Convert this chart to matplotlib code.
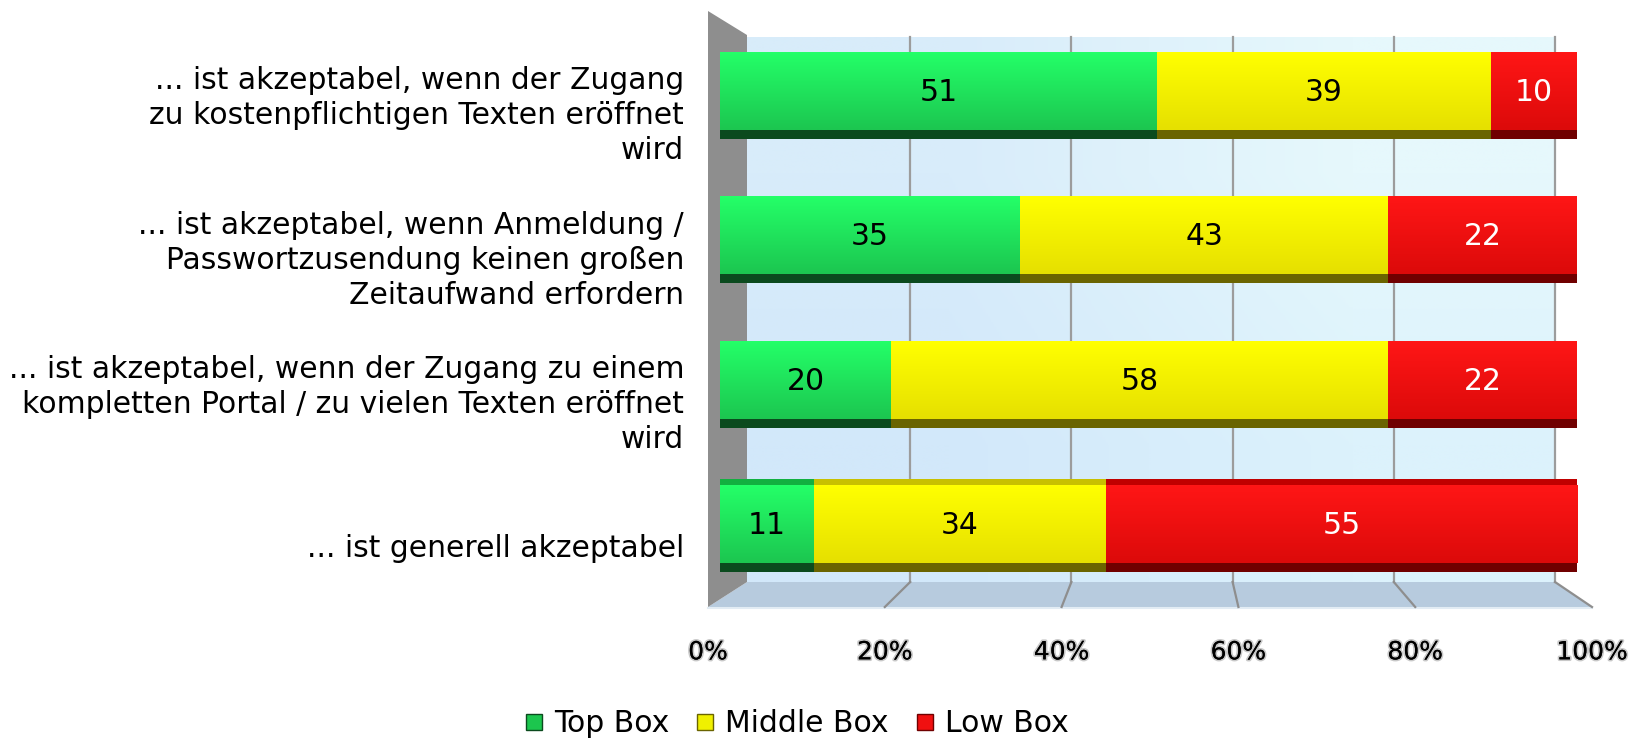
import matplotlib
matplotlib.use("Agg")
import matplotlib.pyplot as plt
import numpy as np
from matplotlib.patches import Polygon
from matplotlib.lines import Line2D
from matplotlib.colors import to_rgb
from matplotlib.transforms import blended_transform_factory
import matplotlib.patheffects as pe

# ---------------- data ----------------
categories = [
    "... ist akzeptabel, wenn der Zugang\nzu kostenpflichtigen Texten eröffnet\nwird",
    "... ist akzeptabel, wenn Anmeldung /\nPasswortzusendung keinen großen\nZeitaufwand erfordern",
    "... ist akzeptabel, wenn der Zugang zu einem\nkompletten Portal / zu vielen Texten eröffnet\nwird",
    "... ist generell akzeptabel",
]
top_box = [51, 35, 20, 11]
middle_box = [39, 43, 58, 34]
low_box = [10, 22, 22, 55]
series_names = ["Top Box", "Middle Box", "Low Box"]
tick_values = [0, 20, 40, 60, 80, 100]
tick_labels = ["0%", "20%", "40%", "60%", "80%", "100%"]

# ---------------- style ----------------
plt.rcParams['font.family'] = ['DejaVu Sans']
top_cols = ["#24FF68", "#FFFF00", "#FF1616"]
bot_cols = ["#1CC650", "#E6E000", "#DC0A0A"]
dark_cols = ["#0B4A1E", "#6A6400", "#700000"]
topface_cols = ["#12B040", "#C8C000", "#C00000"]
txt_cols = ["black", "black", "white"]
leg_cols = ["#1CC64E", "#F0F000", "#F01010"]

W, H = 1637, 741
fig = plt.figure(figsize=(W / 100, H / 100), dpi=100)

# background decoration (3-D walls) in pixel coordinates
bg = fig.add_axes([0, 0, 1, 1], zorder=0)
bg.set_xlim(0, W)
bg.set_ylim(H, 0)
bg.axis('off')

wall_l, wall_r, wall_t, wall_b = 747, 1555, 37, 582
floor_front = 607
front_l, front_r = 708, 1592

grad = np.array([[to_rgb("#D8ECFA"), to_rgb("#E6F8FC")],
                 [to_rgb("#D2E8FA"), to_rgb("#DCF2FC")]])
bg.imshow(grad, extent=[wall_l, wall_r, wall_b, wall_t], interpolation='bilinear',
          aspect='auto', zorder=1)
bg.add_patch(Polygon([[wall_l, wall_b], [wall_r, wall_b], [front_r, floor_front],
                      [front_l, floor_front]], closed=True, fc="#B7CBDE", ec="none", zorder=2))
bg.plot([front_l, front_r], [floor_front + 1, floor_front + 1], color="#E2ECF4", lw=1.5, zorder=2)
for t in tick_values[1:]:
    bx = wall_l + 2 + t / 100 * (wall_r - wall_l - 2)
    fx = front_l + t / 100 * (front_r - front_l)
    bg.plot([bx, bx], [wall_t, wall_b], color="#9C9C9C", lw=1.6, zorder=3)
    bg.plot([bx, fx], [wall_b, floor_front], color="#8E8E8E", lw=1.6, zorder=3)
bg.add_patch(Polygon([[708, 11], [wall_l, 35], [wall_l, wall_b], [708, floor_front]],
                     closed=True, fc="#8E8E8E", ec="none", zorder=4))
bg.set_xlim(0, W)
bg.set_ylim(H, 0)

# main bar axes
px_top, px_bot = 23.35, 600.6
ax = fig.add_axes([720 / W, 1 - px_bot / H, 857 / W, (px_bot - px_top) / H], zorder=2)
ax.patch.set_visible(False)
ax.axis('off')

y = np.arange(len(categories))
face_off, face_h = -0.031, 0.54
strip_off, strip_h = 0.27, 0.065
series = [top_box, middle_box, low_box]
lefts = np.zeros(len(categories))
for k, vals in enumerate(series):
    vals = np.array(vals, dtype=float)
    ax.barh(y + strip_off, vals, left=lefts, height=strip_h, color=dark_cols[k],
            edgecolor='none', zorder=2)
    bars = ax.barh(y + face_off, vals, left=lefts, height=face_h, color=top_cols[k],
                   edgecolor='none', zorder=3)
    g = np.linspace(0, 1, 64)[:, None, None]
    c0 = np.array(to_rgb(top_cols[k]))
    c1 = np.array(to_rgb(bot_cols[k]))
    img = c0 * (1 - g) + c1 * g
    for b in bars:
        x0, y0 = b.get_x(), b.get_y()
        im = ax.imshow(img, extent=[x0, x0 + b.get_width(), y0 + b.get_height(), y0],
                       aspect='auto', interpolation='bilinear', zorder=4)
        im.set_clip_path(b)
    for i, v in enumerate(vals):
        ax.text(lefts[i] + v / 2, y[i] + face_off + 0.01, f"{int(v)}", ha='center', va='center',
                fontsize=21.5, color=txt_cols[k], zorder=6)
    lefts = lefts + vals

# top face of the lowest bar (seen from above)
last = len(categories) - 1
lefts = 0.0
for k, vals in enumerate(series):
    ax.barh([y[last] + face_off - face_h / 2 - 0.02], [vals[last]], left=lefts, height=0.042,
            color=topface_cols[k], edgecolor='none', zorder=2)
    lefts += vals[last]

ax.set_xlim(0, 100)
ax.set_ylim(len(categories) - 0.5, -0.5)

trans = blended_transform_factory(ax.transAxes, ax.transData)
for i, lab in enumerate(categories):
    ax.text(-0.042, y[i] + 0.14, lab, transform=trans, ha='right', va='center',
            fontsize=21.4, linespacing=1.26, color='black')

# front-edge axis for percentage labels
fxax = fig.add_axes([front_l / W, 1 - floor_front / H, (front_r - front_l) / W, 0.001], zorder=1)
fxax.set_xlim(0, 100)
fxax.set_xticks(tick_values)
fxax.set_xticklabels(tick_labels, fontsize=18)
fxax.tick_params(axis='x', length=0, pad=24)
fxax.set_yticks([])
for s in fxax.spines.values():
    s.set_visible(False)
fxax.patch.set_visible(False)
for tl in fxax.get_xticklabels():
    tl.set_path_effects([pe.withStroke(linewidth=2.5, foreground="#C8C8C8"), pe.Normal()])

# legend
handles = [Line2D([0], [0], marker='s', linestyle='none', markersize=12,
                  markerfacecolor=leg_cols[k], markeredgecolor=dark_cols[k], markeredgewidth=1)
           for k in range(3)]
leg = fig.legend(handles, series_names, loc='center', bbox_to_anchor=(797 / W, 1 - 724 / H),
                 ncol=3, frameon=False, fontsize=21.5, handlelength=0.6, handletextpad=0.37,
                 columnspacing=0.9)

fig.savefig("out.png", dpi=100)
